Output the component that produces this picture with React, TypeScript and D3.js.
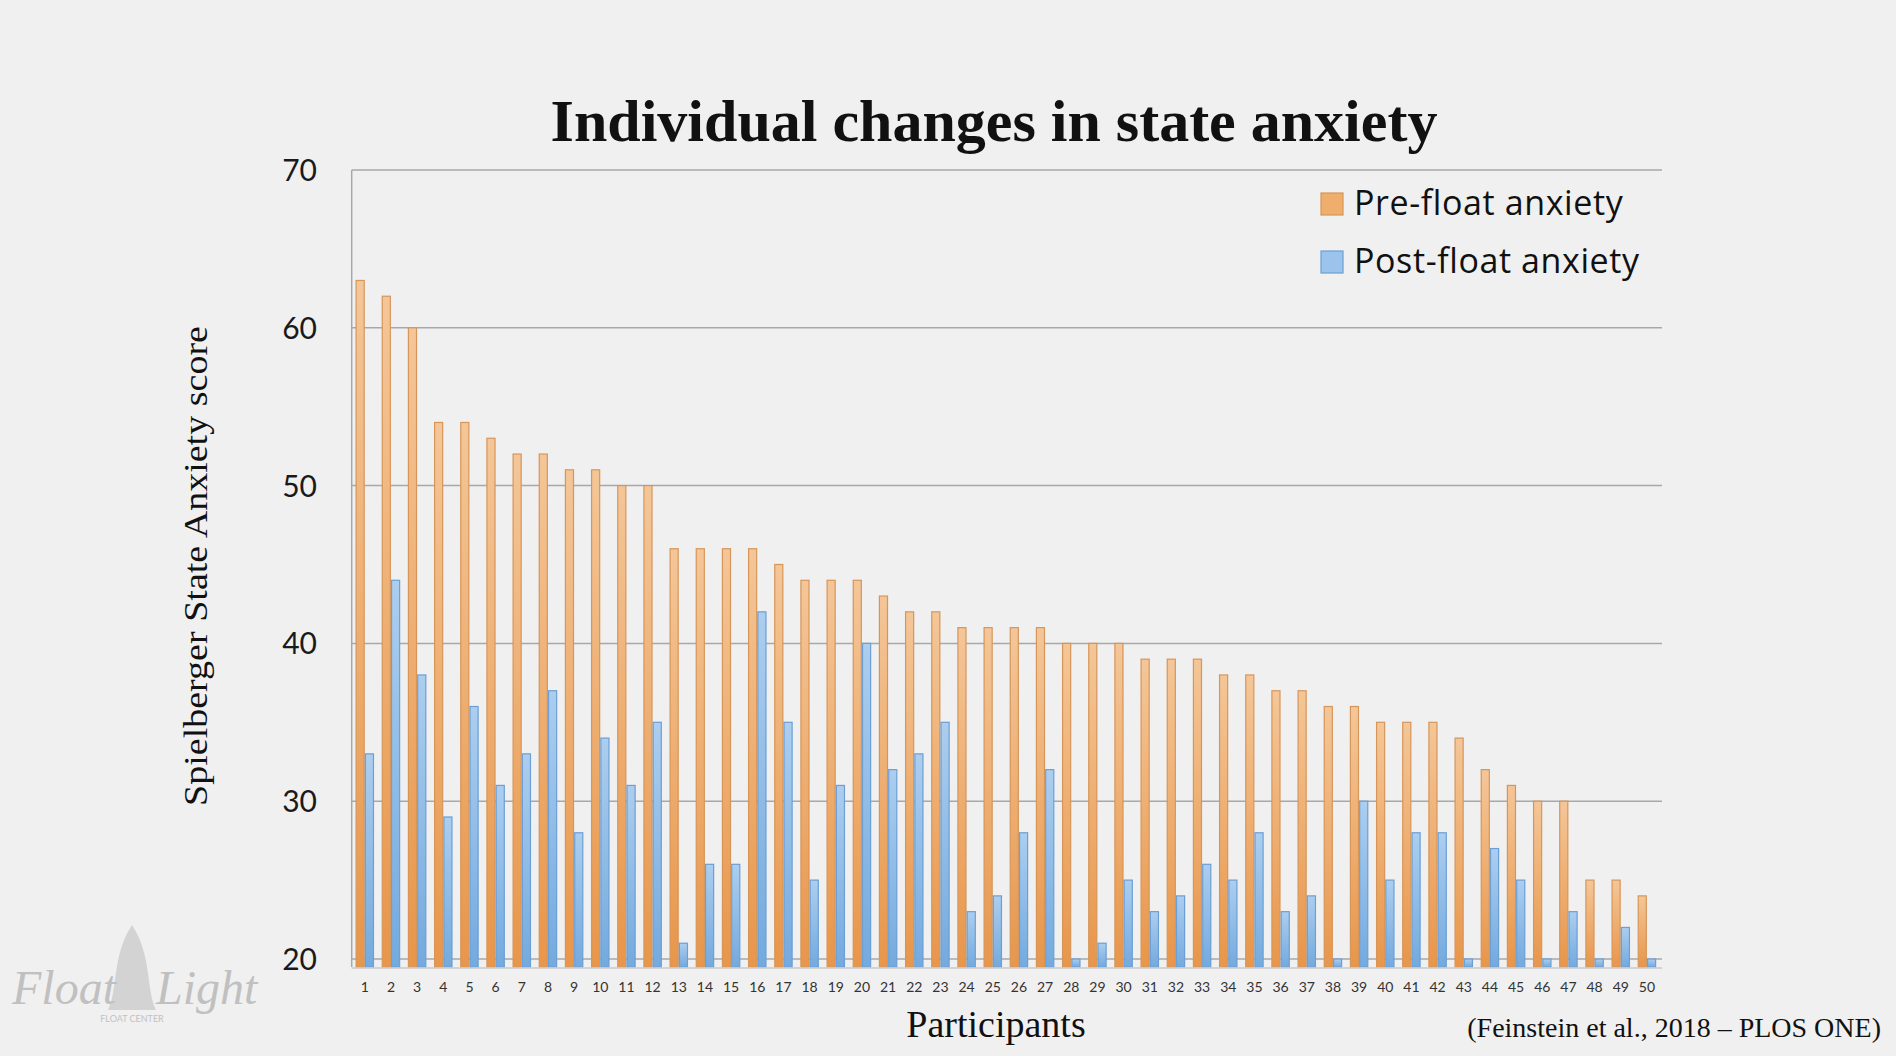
import { useEffect, useRef } from "react";
import * as d3 from "d3";

const participants = d3.range(1, 51).map(String);

const preFloat = [
  63, 62, 60, 54, 54, 53, 52, 52, 51, 51, 50, 50, 46, 46, 46, 46, 45, 44, 44,
  44, 43, 42, 42, 41, 41, 41, 41, 40, 40, 40, 39, 39, 39, 38, 38, 37, 37, 36,
  36, 35, 35, 35, 34, 32, 31, 30, 30, 25, 25, 24,
];

const postFloat = [
  33, 44, 38, 29, 36, 31, 33, 37, 28, 34, 31, 35, 21, 26, 26, 42, 35, 25, 31,
  40, 32, 33, 35, 23, 24, 28, 32, 20, 21, 25, 23, 24, 26, 25, 28, 23, 24, 20,
  30, 25, 28, 28, 20, 27, 25, 20, 23, 20, 22, 20,
];

const seriesNames = ["Pre-float anxiety", "Post-float anxiety"];
const yTicks = [20, 30, 40, 50, 60, 70];

const W = 1896;
const H = 1056;

export default function App() {
  const svgRef = useRef<SVGSVGElement>(null);

  useEffect(() => {
    if (!svgRef.current) return;
    document.body.style.margin = "0";
    document.body.style.background = "#f0f0f0";

    const svg = d3.select(svgRef.current);
    svg.selectAll("*").remove();

    const left = 351.7;
    const right = 1660;
    const top = 170;
    const bottom = 959;

    const sans = "Lato, 'Open Sans', sans-serif";
    const serif = "'Liberation Serif', 'DejaVu Serif', serif";

    svg.append("rect").attr("width", W).attr("height", H).attr("fill", "#f0f0f0");

    // gradients for the Excel-style bars
    const defs = svg.append("defs");
    const grads = [
      { id: "g-pre", top: "#f4c698", bottom: "#e8964a" },
      { id: "g-post", top: "#acceef", bottom: "#74aade" },
    ];
    grads.forEach((g) => {
      const lg = defs
        .append("linearGradient")
        .attr("id", g.id)
        .attr("x1", "0%")
        .attr("y1", "0%")
        .attr("x2", "0%")
        .attr("y2", "100%");
      lg.append("stop").attr("offset", "0%").attr("stop-color", g.top);
      lg.append("stop").attr("offset", "100%").attr("stop-color", g.bottom);
    });
    const fills = ["url(#g-pre)", "url(#g-post)"];
    const strokes = ["#d6965a", "#6b9fd6"];
    const legendFills = ["#f0ae6c", "#9cc3ec"];

    const x0 = d3
      .scaleBand<string>()
      .domain(participants)
      .range([left, right])
      .paddingInner(0.29)
      .paddingOuter(0.145);
    const x1 = d3
      .scaleBand<string>()
      .domain(seriesNames)
      .range([0, x0.bandwidth()]);
    const y = d3.scaleLinear().domain([20, 70]).range([bottom, top]);
    const base = y(19.5);

    // grid lines
    svg
      .append("g")
      .selectAll("line")
      .data(yTicks)
      .join("line")
      .attr("x1", left)
      .attr("x2", right + 2)
      .attr("y1", (d) => y(d))
      .attr("y2", (d) => y(d))
      .attr("stroke", "#a8a8a8")
      .attr("stroke-width", 1.5);

    // left axis line
    svg
      .append("line")
      .attr("x1", left)
      .attr("x2", left)
      .attr("y1", top)
      .attr("y2", base)
      .attr("stroke", "#a8a8a8")
      .attr("stroke-width", 1.5);

    // bars
    const groups = svg
      .append("g")
      .selectAll("g")
      .data(participants)
      .join("g")
      .attr("transform", (d) => `translate(${x0(d)},0)`);

    groups
      .selectAll("rect")
      .data((_d, i) => [
        { s: 0, v: preFloat[i] },
        { s: 1, v: postFloat[i] },
      ])
      .join("rect")
      .attr("x", (d) => (x1(seriesNames[d.s]) || 0) + 0.6)
      .attr("y", (d) => y(d.v))
      .attr("width", x1.bandwidth() - 1.2)
      .attr("height", (d) => base - y(d.v))
      .attr("fill", (d) => fills[d.s])
      .attr("stroke", (d) => strokes[d.s])
      .attr("stroke-width", 1.2);

    // faint baseline shadow
    svg
      .append("line")
      .attr("x1", left)
      .attr("x2", right + 2)
      .attr("y1", base + 1)
      .attr("y2", base + 1)
      .attr("stroke", "#c8c8c8")
      .attr("stroke-width", 2)
      .attr("opacity", 0.7);

    // y tick labels
    svg
      .append("g")
      .selectAll("text")
      .data(yTicks)
      .join("text")
      .attr("x", 317)
      .attr("y", (d) => y(d) + 11)
      .attr("text-anchor", "end")
      .attr("font-family", sans)
      .attr("font-size", 30)
      .attr("fill", "#1a1a1a")
      .text((d) => d);

    // x tick labels
    svg
      .append("g")
      .selectAll("text")
      .data(participants)
      .join("text")
      .attr("x", (d) => (x0(d) || 0) + x0.bandwidth() / 2)
      .attr("y", 992)
      .attr("text-anchor", "middle")
      .attr("font-family", sans)
      .attr("font-size", 14)
      .attr("fill", "#333")
      .text((d) => d);

    // title
    svg
      .append("text")
      .attr("x", 994)
      .attr("y", 141)
      .attr("text-anchor", "middle")
      .attr("font-family", serif)
      .attr("font-weight", "bold")
      .attr("font-size", 60)
      .attr("fill", "#111")
      .text("Individual changes in state anxiety");

    // axis titles
    svg
      .append("text")
      .attr("transform", `translate(207,566) rotate(-90)`)
      .attr("text-anchor", "middle")
      .attr("font-family", serif)
      .attr("font-size", 33)
      .attr("fill", "#111")
      .attr("textLength", 480)
      .attr("lengthAdjust", "spacingAndGlyphs")
      .text("Spielberger State Anxiety score");

    svg
      .append("text")
      .attr("x", 996)
      .attr("y", 1037)
      .attr("text-anchor", "middle")
      .attr("font-family", serif)
      .attr("font-size", 38)
      .attr("fill", "#111")
      .text("Participants");

    svg
      .append("text")
      .attr("x", 1881)
      .attr("y", 1037)
      .attr("text-anchor", "end")
      .attr("font-family", serif)
      .attr("font-size", 28)
      .attr("fill", "#111")
      .text("(Feinstein et al., 2018 \u2013 PLOS ONE)");

    // legend
    const legend = svg
      .append("g")
      .selectAll("g")
      .data(seriesNames)
      .join("g")
      .attr("transform", (_d, i) => `translate(1321,${193 + i * 58})`);
    legend
      .append("rect")
      .attr("width", 22)
      .attr("height", 22)
      .attr("fill", (_d, i) => legendFills[i])
      .attr("stroke", (_d, i) => strokes[i])
      .attr("stroke-width", 1.2);
    legend
      .append("text")
      .attr("x", 33)
      .attr("y", 22)
      .attr("font-family", "'Open Sans', Lato, sans-serif")
      .attr("font-size", 34)
      .attr("letter-spacing", 0.6)
      .attr("fill", "#111")
      .text((d) => d);

    // watermark
    const wm = svg.append("g").attr("opacity", 0.55);
    wm.append("path")
      .attr("d", "M108,1010 C118,990 112,955 132,925 C152,955 146,990 156,1010 Z")
      .attr("fill", "#bdbdbd");
    wm.append("text")
      .attr("x", 12)
      .attr("y", 1004)
      .attr("font-family", serif)
      .attr("font-style", "italic")
      .attr("font-size", 48)
      .attr("fill", "#9a9a9a")
      .text("Float");
    wm.append("text")
      .attr("x", 156)
      .attr("y", 1004)
      .attr("font-family", serif)
      .attr("font-style", "italic")
      .attr("font-size", 48)
      .attr("fill", "#9a9a9a")
      .text("Light");
    wm.append("text")
      .attr("x", 132)
      .attr("y", 1022)
      .attr("text-anchor", "middle")
      .attr("font-family", sans)
      .attr("font-size", 9)
      .attr("fill", "#9a9a9a")
      .text("FLOAT CENTER");
  }, []);

  return <svg ref={svgRef} width={W} height={H} style={{ display: "block" }} />;
}
